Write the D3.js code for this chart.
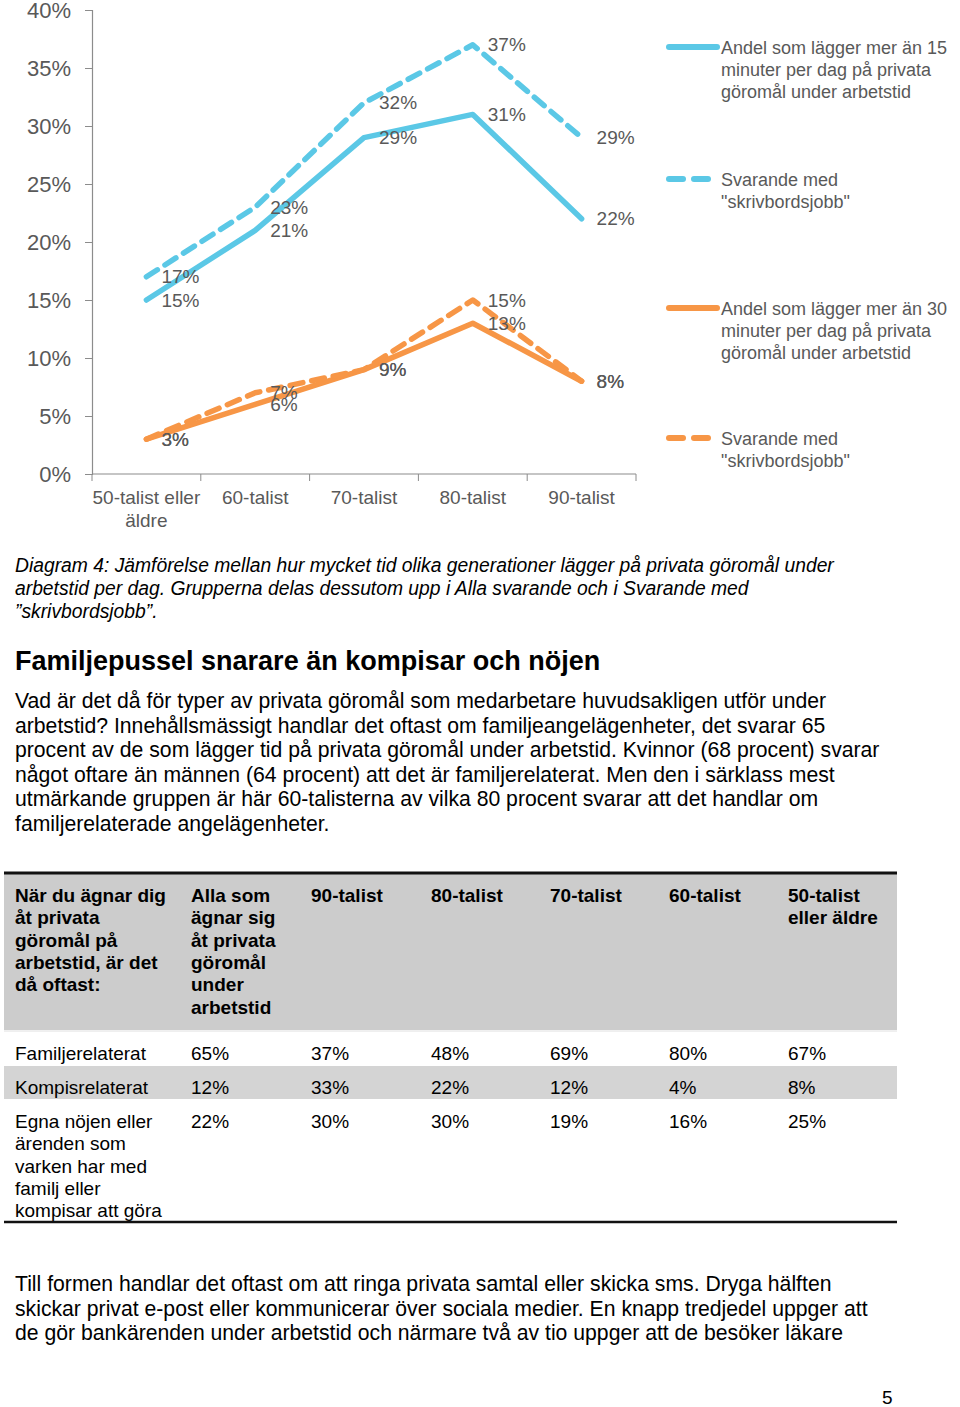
<!DOCTYPE html>
<html><head><meta charset="utf-8">
<script src="https://cdn.jsdelivr.net/npm/d3@7"></script>
<style>
body{margin:0;background:#fff;}
svg{display:block;}
</style></head>
<body>
<svg id="c" width="960" height="1407"></svg>
<script>
// ---- Chart data ----
const categories = ["50-talist eller äldre","60-talist","70-talist","80-talist","90-talist"];
const blue15All  = [15,21,29,31,22];
const blue15Desk = [17,23,32,37,29];
const orange30All  = [3,6,9,13,8];
const orange30Desk = [3,7,9,15,8];
const yTicks = [0,5,10,15,20,25,30,35,40];
const legendLabels = [
  ["Andel som lägger mer än 15","minuter per dag på privata","göromål under arbetstid"],
  ["Svarande med","\"skrivbordsjobb\""],
  ["Andel som lägger mer än 30","minuter per dag på privata","göromål under arbetstid"],
  ["Svarande med","\"skrivbordsjobb\""]
];
// ---- Table data ----
const tableHeader = [
  ["När du ägnar dig","åt privata","göromål på","arbetstid, är det","då oftast:"],
  ["Alla som","ägnar sig","åt privata","göromål","under","arbetstid"],
  ["90-talist"],["80-talist"],["70-talist"],["60-talist"],["50-talist","eller äldre"]
];
const rowLabels = [["Familjerelaterat"],["Kompisrelaterat"],["Egna nöjen eller","ärenden som","varken har med","familj eller","kompisar att göra"]];
const rowValues = [
  ["65%","37%","48%","69%","80%","67%"],
  ["12%","33%","22%","12%","4%","8%"],
  ["22%","30%","30%","19%","16%","25%"]
];
// ---- Text ----
const captionLines = ["Diagram 4: Jämförelse mellan hur mycket tid olika generationer lägger på privata göromål under","arbetstid per dag. Grupperna delas dessutom upp i Alla svarande och i Svarande med","”skrivbordsjobb”."];
const heading = "Familjepussel snarare än kompisar och nöjen";
const para1 = ["Vad är det då för typer av privata göromål som medarbetare huvudsakligen utför under","arbetstid? Innehållsmässigt handlar det oftast om familjeangelägenheter, det svarar 65","procent av de som lägger tid på privata göromål under arbetstid. Kvinnor (68 procent) svarar","något oftare än männen (64 procent) att det är familjerelaterat. Men den i särklass mest","utmärkande gruppen är här 60-talisterna av vilka 80 procent svarar att det handlar om","familjerelaterade angelägenheter."];
const para2 = ["Till formen handlar det oftast om att ringa privata samtal eller skicka sms. Dryga hälften","skickar privat e-post eller kommunicerar över sociala medier. En knapp tredjedel uppger att","de gör bankärenden under arbetstid och närmare två av tio uppger att de besöker läkare"];

const svg = d3.select("#c");
const BLUE = "#5bc8e6", ORANGE = "#f79646", GRAY = "#595959", AX = "#8c8c8c";
const chartFont = "'Liberation Sans', Arial, sans-serif";

const x = d3.scaleBand().domain(categories).range([92,636]).padding(0);
const y = d3.scaleLinear().domain([0,40]).range([474,10]);

// axes
const yAxis = svg.append("g").attr("transform","translate(92,0)")
  .call(d3.axisLeft(y).tickValues(yTicks).tickFormat(d=>d+"%").tickSize(7).tickPadding(14));
yAxis.select(".domain").attr("stroke",AX).attr("stroke-width",1.2);
yAxis.selectAll(".tick line").attr("stroke",AX);
yAxis.selectAll(".tick text").attr("fill",GRAY).attr("font-size",22).attr("font-family",chartFont);

const xg = svg.append("g");
xg.append("line").attr("x1",x.range()[0]).attr("x2",x.range()[1]).attr("y1",y(0)).attr("y2",y(0)).attr("stroke",AX).attr("stroke-width",1.2);
const bounds = categories.map(c=>x(c)).concat([x.range()[1]]);
xg.selectAll("line.tk").data(bounds).join("line").attr("class","tk")
  .attr("x1",d=>d).attr("x2",d=>d).attr("y1",y(0)).attr("y2",y(0)+7).attr("stroke",AX);
const xLabelLines = {"50-talist eller äldre":["50-talist eller","äldre"]};
categories.forEach(c=>{
  const lines = xLabelLines[c] || [c];
  const t = xg.append("text").attr("x",x(c)+x.bandwidth()/2).attr("y",504)
    .attr("text-anchor","middle").attr("fill",GRAY).attr("font-size",19).attr("font-family",chartFont);
  lines.forEach((l,i)=>t.append("tspan").attr("x",x(c)+x.bandwidth()/2).attr("dy",i?23:0).text(l));
});

const series = [
  {vals:orange30All,color:ORANGE,dash:null},
  {vals:orange30Desk,color:ORANGE,dash:"13,9"},
  {vals:blue15All,color:BLUE,dash:null},
  {vals:blue15Desk,color:BLUE,dash:"13,9"}
];
const line = d3.line().x((d,i)=>x(categories[i])+x.bandwidth()/2).y(d=>y(d));
series.forEach(s=>{
  svg.append("path").attr("d",line(s.vals)).attr("fill","none").attr("stroke",s.color)
    .attr("stroke-width",5.5).attr("stroke-linecap","round").attr("stroke-linejoin","round")
    .attr("stroke-dasharray",s.dash);
});
series.forEach(s=>{
  svg.append("g").selectAll("text").data(s.vals).join("text")
    .attr("x",(d,i)=>x(categories[i])+x.bandwidth()/2+15).attr("y",d=>y(d)).attr("dy","0.35em")
    .attr("fill",GRAY).attr("font-size",19).attr("font-family",chartFont).text(d=>d+"%");
});

// legend
const legY = [47,179,308,438];
const legSeries = [series[2],series[3],series[0],series[1]];
legSeries.forEach((s,i)=>{
  const g = svg.append("g");
  if(s.dash){
    g.append("line").attr("x1",669).attr("x2",683).attr("y1",legY[i]).attr("y2",legY[i]).attr("stroke",s.color).attr("stroke-width",6).attr("stroke-linecap","round");
    g.append("line").attr("x1",694).attr("x2",708).attr("y1",legY[i]).attr("y2",legY[i]).attr("stroke",s.color).attr("stroke-width",6).attr("stroke-linecap","round");
  } else {
    g.append("line").attr("x1",669).attr("x2",717).attr("y1",legY[i]).attr("y2",legY[i]).attr("stroke",s.color).attr("stroke-width",6).attr("stroke-linecap","round");
  }
  const t = g.append("text").attr("x",721).attr("y",legY[i]+7).attr("fill",GRAY).attr("font-size",18).attr("font-family",chartFont);
  legendLabels[i].forEach((l,j)=>t.append("tspan").attr("x",721).attr("dy",j?22:0).text(l));
});

// caption
const cap = svg.append("text").attr("x",15).attr("y",572).attr("font-size",19.3).attr("font-style","italic")
  .attr("font-family","'Liberation Sans',Arial,sans-serif").attr("fill","#000");
captionLines.forEach((l,i)=>cap.append("tspan").attr("x",15).attr("dy",i?23:0).text(l));

svg.append("text").attr("x",15).attr("y",670).attr("font-size",27).attr("font-weight","bold")
  .attr("font-family","'Liberation Sans',Arial,sans-serif").text(heading);

function para(lines,y0){
  const t = svg.append("text").attr("x",15).attr("y",y0).attr("font-size",21.2).attr("font-family","'Liberation Sans',Arial,sans-serif");
  lines.forEach((l,i)=>t.append("tspan").attr("x",15).attr("dy",i?24.6:0).text(l));
}
para(para1,708);
para(para2,1291);

// table
const colX = [15,191,311,431,550,669,788];
const TF = "'Liberation Sans',Arial,sans-serif";
svg.append("rect").attr("x",4).attr("y",873).attr("width",893).attr("height",157).attr("fill","#cccccc");
svg.append("line").attr("x1",4).attr("x2",897).attr("y1",873).attr("y2",873).attr("stroke","#111").attr("stroke-width",3);
svg.append("line").attr("x1",4).attr("x2",897).attr("y1",1031).attr("y2",1031).attr("stroke","#e0e0e0").attr("stroke-width",1);
tableHeader.forEach((lines,c)=>{
  const t = svg.append("text").attr("x",colX[c]).attr("y",902).attr("font-size",19).attr("font-weight","bold").attr("font-family",TF);
  lines.forEach((l,i)=>t.append("tspan").attr("x",colX[c]).attr("dy",i?22.3:0).text(l));
});
const rowY = [1060,1094,1128];
svg.append("rect").attr("x",4).attr("y",1066).attr("width",893).attr("height",33).attr("fill","#d4d4d4");
rowLabels.forEach((lines,r)=>{
  const t = svg.append("text").attr("x",colX[0]).attr("y",rowY[r]).attr("font-size",19).attr("font-family",TF);
  lines.forEach((l,i)=>t.append("tspan").attr("x",colX[0]).attr("dy",i?22.3:0).text(l));
  rowValues[r].forEach((v,c)=>{
    svg.append("text").attr("x",colX[c+1]).attr("y",rowY[r]).attr("font-size",19).attr("font-family",TF).text(v);
  });
});
svg.append("line").attr("x1",4).attr("x2",897).attr("y1",1222).attr("y2",1222).attr("stroke","#111").attr("stroke-width",2.5);

svg.append("text").attr("x",882).attr("y",1404).attr("font-size",19).attr("font-family",TF).text("5");
</script>
</body></html>
